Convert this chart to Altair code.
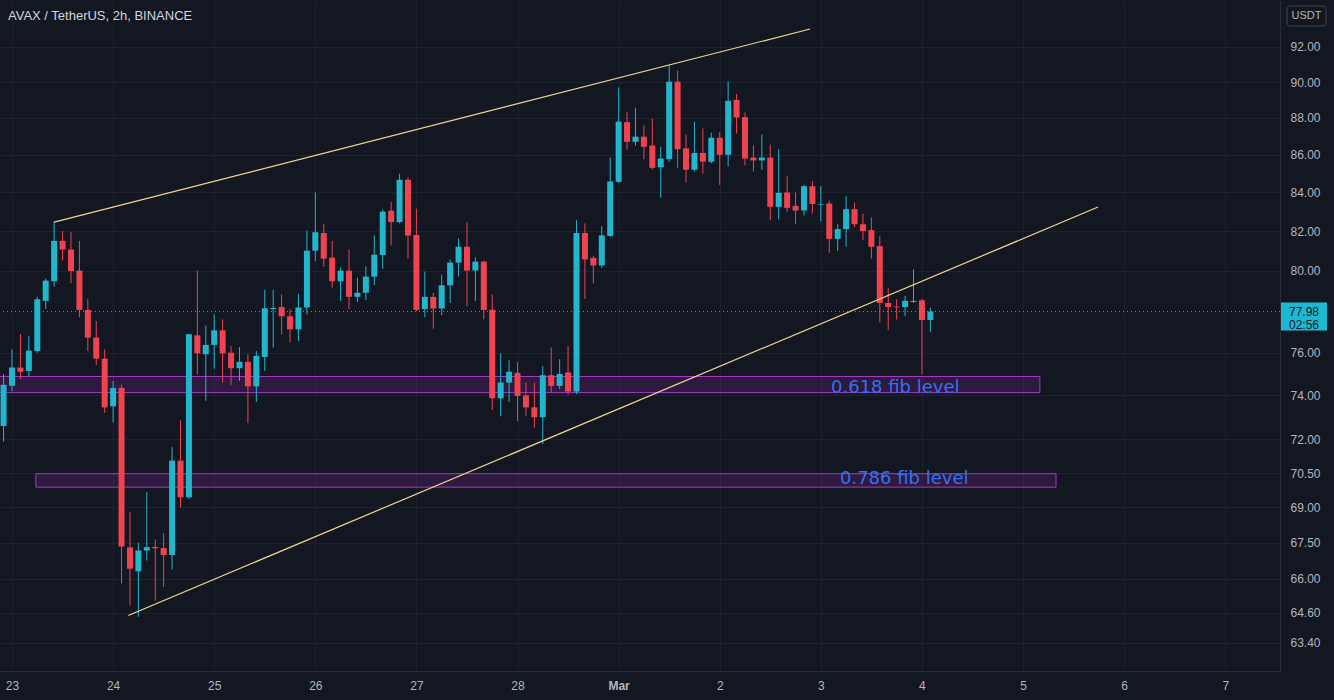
import altair as alt
import pandas as pd

# ---------------- data ----------------
opens = [72.6, 74.45, 75.3, 75.14, 76.08, 78.5, 79.47, 81.5, 81.06, 80.0, 78.06, 76.72, 75.72,
         73.5, 74.34, 67.3, 66.3, 67.17, 67.32, 67.27, 66.98, 71.05, 69.44, 76.83, 75.93,
         76.37, 77.07, 76.0, 75.27, 75.57, 74.42, 75.8, 78.10, 78.2, 77.75, 77.12, 78.18,
         81.0, 81.9, 80.65, 79.47, 80.0, 78.7, 78.9, 79.7, 80.78, 83.05, 82.46, 84.67,
         81.8, 78.1, 78.7, 78.13, 79.27, 80.4, 81.2, 80.0, 80.45, 78.07, 73.87, 74.6,
         75.05, 74.0, 73.45, 73.0, 74.94, 74.44, 75.07, 74.18, 81.9, 80.64, 80.26, 81.75,
         84.56, 87.77, 86.7, 86.98, 86.5, 85.33, 85.77, 90.02, 86.35, 85.2, 86.1, 85.63,
         86.92, 86.0, 89.0, 88.05, 85.85, 85.7, 85.85, 83.25, 84.0, 83.3, 83.06, 84.33,
         83.35, 83.42, 81.6, 82.1, 83.13, 82.35, 82.05, 81.23, 78.4, 78.22, 78.2, 78.45,
         78.53, 77.57]
highs = [75.0, 76.16, 76.9, 76.8, 78.7, 79.6, 82.5, 82.0, 81.96, 81.5, 78.58, 77.52, 76.16,
         74.67, 74.5, 68.8, 67.5, 69.66, 67.63, 67.9, 71.65, 72.86, 76.9, 80.0, 77.3,
         77.84, 77.6, 76.32, 76.27, 75.93, 76.08, 79.04, 79.04, 78.82, 78.1, 78.85, 82.03,
         84.0, 82.35, 81.5, 80.15, 81.06, 79.64, 80.2, 81.78, 83.1, 83.5, 84.99, 84.8,
         83.15, 79.95, 78.9, 79.8, 80.56, 81.63, 82.46, 80.66, 80.5, 78.82, 75.97, 75.64,
         75.56, 74.6, 74.6, 75.37, 76.25, 75.69, 76.32, 82.56, 82.4, 80.75, 82.25, 85.86,
         89.7, 88.35, 88.57, 87.6, 87.96, 86.43, 90.96, 90.64, 87.1, 87.8, 87.43, 87.2,
         87.23, 90.02, 89.33, 88.3, 86.5, 87.1, 86.55, 86.3, 84.85, 84.0, 84.4, 84.6,
         84.33, 83.58, 82.35, 83.8, 83.47, 82.9, 82.7, 81.73, 79.15, 78.58, 78.75, 80.06,
         78.6, 78.18]
lows = [71.9, 74.2, 74.75, 74.9, 76.0, 78.1, 79.2, 80.5, 79.37, 77.7, 76.08, 75.42, 73.2,
        72.76, 65.8, 64.9, 64.45, 66.75, 65.1, 65.66, 66.38, 69.0, 69.37, 74.98, 73.75,
        75.25, 74.6, 74.47, 74.67, 72.73, 73.7, 75.14, 76.25, 76.88, 76.48, 76.56, 77.84,
        80.48, 80.2, 79.15, 78.5, 78.1, 78.45, 78.55, 79.27, 80.1, 81.27, 82.4, 80.6,
        78.0, 77.7, 77.15, 77.8, 78.4, 79.7, 78.25, 78.5, 77.6, 73.33, 73.04, 73.7,
        72.83, 73.07, 72.53, 71.79, 74.13, 74.29, 74.03, 74.06, 78.6, 79.37, 80.14, 81.7,
        84.5, 86.27, 86.5, 85.75, 85.2, 83.72, 85.63, 85.3, 84.53, 85.1, 85.0, 85.55,
        84.4, 85.37, 87.14, 85.43, 85.1, 85.2, 82.56, 82.6, 83.0, 82.35, 82.8, 82.9,
        82.5, 80.9, 81.0, 81.2, 82.2, 81.55, 80.6, 77.45, 77.08, 77.6, 77.77, 78.4,
        74.98, 77.0]
closes = [74.5, 75.3, 75.1, 76.1, 78.58, 79.5, 81.5, 81.06, 79.98, 78.06, 76.72, 75.72, 73.45,
          74.34, 67.34, 66.41, 67.17, 67.31, 67.26, 66.98, 71.05, 69.44, 76.88, 75.97, 76.37,
          77.07, 75.97, 75.27, 75.57, 74.42, 75.85, 78.14, 78.16, 77.75, 77.12, 78.18, 81.0,
          81.94, 80.6, 79.47, 80.0, 78.7, 78.9, 79.7, 80.8, 83.0, 82.46, 84.67, 81.77,
          78.06, 78.7, 78.13, 79.27, 80.4, 81.2, 80.0, 80.45, 78.06, 73.87, 74.6, 75.1,
          73.98, 73.45, 73.0, 74.94, 74.44, 75.0, 74.18, 81.9, 80.56, 80.26, 81.78, 84.58,
          87.8, 86.7, 86.98, 86.43, 85.3, 85.8, 90.02, 86.3, 85.2, 86.1, 85.63, 86.92,
          86.0, 88.95, 88.03, 85.8, 85.7, 85.85, 83.25, 83.98, 83.2, 83.06, 84.33, 83.4,
          83.38, 81.6, 82.1, 83.13, 82.35, 82.0, 81.2, 78.4, 78.2, 78.18, 78.5, 78.5,
          77.57, 77.98]

first_candle = "2022-02-22T22:00:00Z"   # 2h candles
last_price = 77.98
countdown = "02:56"

y_ticks = [63.4, 64.6, 66, 67.5, 69, 70.5, 72, 74, 76, 80, 82, 84, 86, 88, 90, 92]
day_ticks = ["2022-02-%02dT00:00:00Z" % d for d in range(23, 29)] + \
            ["2022-03-%02dT00:00:00Z" % d for d in range(1, 8)]

# annotations: trend lines and fib zones
trend_t1 = ["2022-02-23T10:00:00Z", "2022-02-24T03:36:00Z"]
trend_p1 = [82.46, 64.5]
trend_t2 = ["2022-03-02T21:26:00Z", "2022-03-05T17:48:00Z"]
trend_p2 = [93.03, 83.24]

fib_t1 = ["2022-02-22T12:00:00Z", "2022-02-23T05:40:00Z"]
fib_t2 = ["2022-03-05T04:00:00Z", "2022-03-05T07:50:00Z"]
fib_lo = [74.13, 69.88]
fib_hi = [74.88, 70.47]
fib_text = ["0.618 fib level", "0.786 fib level"]
fib_text_t = ["2022-03-03T02:25:00Z", "2022-03-03T04:33:00Z"]
fib_text_p = [74.36, 70.22]

# ---------------- styling ----------------
UP = "#22b5cc"
DOWN = "#ef4350"
BG = "#131722"
GRID = "#1e222d"
TXT = "#b2b5be"
FONT = "Liberation Sans"

def ms(s):
    return int(pd.Timestamp(s).value // 10**6)

start = pd.Timestamp(first_candle)
times = [(start + pd.Timedelta(hours=2 * i)).strftime("%Y-%m-%dT%H:%M:%SZ") for i in range(len(opens))]
df = pd.DataFrame({"t": times, "open": opens, "high": highs, "low": lows, "close": closes})
df["dir"] = ["up" if c >= o else "down" for o, c in zip(opens, closes)]

x_scale = alt.Scale(type="utc", domain=[ms("2022-02-22T21:09:00Z"), ms("2022-03-07T13:00:00Z")],
                    padding=0)
x_axis = alt.Axis(values=[ms(d) for d in day_ticks],
                  labelExpr="utcdate(datum.value) == 1 ? 'Mar' : '' + utcdate(datum.value)",
                  labelFontWeight={"condition": {"test": "utcdate(datum.value) == 1", "value": "bold"},
                                   "value": "normal"},
                  ticks=False, labelPadding=9, labelColor=TXT, labelFontSize=12, labelFont=FONT,
                  grid=True, gridColor=GRID, domainColor="#2a2e39", title=None)
y_scale = alt.Scale(type="log", domain=[62.30, 94.73], nice=False, zero=False, padding=0)
y_axis = alt.Axis(orient="right", values=y_ticks, format=".2f", ticks=False, labelPadding=10,
                  labelColor=TXT, labelFontSize=12, labelFont=FONT, grid=True, gridColor=GRID,
                  domainColor="#2a2e39", title=None)

def X(f):
    return alt.X(f, type="temporal", scale=x_scale, axis=x_axis)

def Y(f):
    return alt.Y(f, type="quantitative", scale=y_scale, axis=y_axis)

color = alt.Color("dir:N", scale=alt.Scale(domain=["up", "down"], range=[UP, DOWN]), legend=None)

base = alt.Chart(df)
wicks = base.mark_rule(strokeWidth=1).encode(x=X("t"), y=Y("low"), y2="high", color=color)
bodies = base.mark_bar(size=6).encode(x=X("t"), y=Y("open"), y2="close", color=color)

fib_df = pd.DataFrame({"t": fib_t1, "t2": fib_t2, "lo": fib_lo, "hi": fib_hi})
fib = alt.Chart(fib_df).mark_rect(clip=True, fill="#9c27b0", fillOpacity=0.2,
                                  stroke="#a33bc2", strokeWidth=1).encode(
    x=X("t"), x2="t2", y=Y("lo"), y2="hi")

fib_lab_df = pd.DataFrame({"t": fib_text_t, "p": fib_text_p, "label": fib_text})
fib_lab = alt.Chart(fib_lab_df).mark_text(align="left", baseline="middle", font="DejaVu Sans",
                                          fontSize=18, color="#3570f2").encode(
    x=X("t"), y=Y("p"), text="label")

tr_df = pd.DataFrame({"t": trend_t1, "t2": trend_t2, "p": trend_p1, "p2": trend_p2})
trends = alt.Chart(tr_df).mark_rule(color="#f5d593", strokeWidth=1.2).encode(
    x=X("t"), x2="t2", y=Y("p"), y2="p2")

lp_df = pd.DataFrame({"p": [last_price], "lbl": ["%.2f" % last_price], "cd": [countdown]})
price_line = alt.Chart(lp_df).mark_rule(color=UP, strokeDash=[1, 3], strokeWidth=1).encode(y=Y("p"))
price_box = alt.Chart(lp_df).mark_rect(color="#1cb8d2", yOffset=-9, y2Offset=19).encode(
    x=alt.value(1281), x2=alt.value(1327), y=Y("p"), y2="p")
price_txt = alt.Chart(lp_df).mark_text(font=FONT, fontSize=12, color=BG, baseline="middle").encode(
    x=alt.value(1304), y=Y("p"), text="lbl")
price_cd = alt.Chart(lp_df).mark_text(font=FONT, fontSize=12, color=BG, baseline="middle", dy=13).encode(
    x=alt.value(1304), y=Y("p"), text="cd")

one = pd.DataFrame({"title": ["AVAX / TetherUS, 2h, BINANCE"], "cur": ["USDT"]})
title = alt.Chart(one).mark_text(align="left", baseline="middle", font=FONT, fontSize=13,
                                 color="#d1d4dc").encode(x=alt.value(8), y=alt.value(16), text="title")
badge = alt.Chart(one).mark_rect(fill=BG, stroke="#434651", cornerRadius=3).encode(
    x=alt.value(1287), x2=alt.value(1326), y=alt.value(6), y2=alt.value(26))
badge_txt = alt.Chart(one).mark_text(font=FONT, fontSize=11, color=TXT, baseline="middle").encode(
    x=alt.value(1306.5), y=alt.value(16), text="cur")

chart = alt.layer(
    fib, wicks, bodies, trends, price_line, fib_lab, price_box, price_txt, price_cd,
    title, badge, badge_txt
).properties(
    width=1280, height=671, background=BG,
    padding={"left": 0, "top": 0, "right": 54, "bottom": 29},
    autosize=alt.AutoSizeParams(type="none")
).configure_view(stroke=None)

chart.save("out.html", embed_options={"renderer": "svg", "actions": False})
